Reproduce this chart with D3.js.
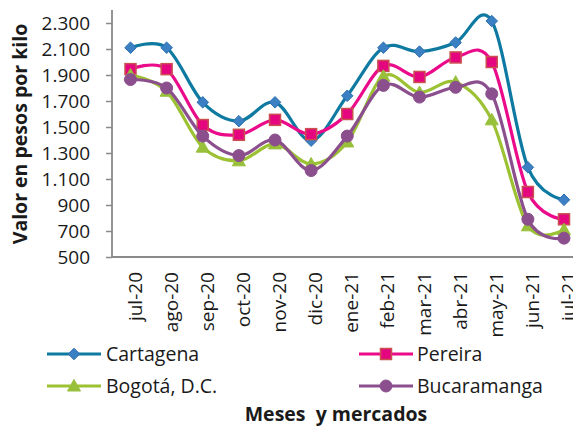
<!DOCTYPE html>
<html>
<head>
<meta charset="utf-8">
<script src="https://cdn.jsdelivr.net/npm/d3@7"></script>
<style>
  html, body { margin: 0; padding: 0; background: #fff; }
  svg { display: block; }
  text { font-family: "Open Sans", "Noto Sans", sans-serif; fill: #1a1a1a; }
</style>
</head>
<body>
<svg id="chart" width="573" height="426"></svg>
<script>
const months = ["jul-20","ago-20","sep-20","oct-20","nov-20","dic-20","ene-21","feb-21","mar-21","abr-21","may-21","jun-21","jul-21"];
const cartagena   = [2110, 2110, 1690, 1545, 1690, 1395, 1740, 2110, 2080, 2150, 2315, 1190, 940];
const pereira     = [1945, 1945, 1515, 1440, 1555, 1445, 1600, 1970, 1885, 2035, 2000, 1000, 790];
const bogota      = [1900, 1775, 1345, 1240, 1370, 1215, 1385, 1890, 1765, 1845, 1555, 740, 710];
const bucaramanga = [1865, 1800, 1430, 1280, 1400, 1165, 1430, 1820, 1730, 1805, 1755, 790, 645];
const yTicks = [500, 700, 900, 1100, 1300, 1500, 1700, 1900, 2100, 2300];
const seriesNames = ["Cartagena", "Pereira", "Bogotá, D.C.", "Bucaramanga"];

const series = [
  {name: seriesNames[0], values: cartagena,   line: "#0f7aa1", fill: "#3a80c3", stroke: "#2d6fb0", shape: "diamond"},
  {name: seriesNames[1], values: pereira,     line: "#ea0a8a", fill: "#e5067f", stroke: "#c9504f", shape: "square"},
  {name: seriesNames[2], values: bogota,      line: "#9cc132", fill: "#98c03a", stroke: "#98c03a", shape: "triangle"},
  {name: seriesNames[3], values: bucaramanga, line: "#8b4f8e", fill: "#8b4f8e", stroke: "#8b4f8e", shape: "circle"}
];

const svg = d3.select("#chart");
const axisX = 112, plotTop = 10, plotBottom = 257;

const x = d3.scalePoint().domain(months).range([130.5, 564]);
const y = d3.scaleLinear().domain([500, 2400]).range([plotBottom, plotTop]);

// y axis
const yAxis = d3.axisLeft(y).tickValues(yTicks).tickSize(6).tickPadding(16)
  .tickFormat(d => d3.format(",")(d).replace(/,/g, "."));
const gy = svg.append("g").attr("transform", `translate(${axisX},0)`).call(yAxis);
gy.select(".domain").remove();
gy.selectAll(".tick line").attr("stroke", "#8a8a8a").attr("stroke-width", 1.5);
gy.selectAll(".tick text").attr("font-size", 19).attr("fill", "#1a1a1a")
  .attr("font-family", "'Open Sans', 'Noto Sans', sans-serif");
svg.append("line").attr("x1", axisX).attr("x2", axisX).attr("y1", plotTop).attr("y2", plotBottom)
  .attr("stroke", "#8a8a8a").attr("stroke-width", 1.8);

// x axis line
svg.append("line").attr("x1", axisX).attr("x2", 573).attr("y1", plotBottom).attr("y2", plotBottom)
  .attr("stroke", "#8a8a8a").attr("stroke-width", 2);

// x labels
svg.append("g").selectAll("text").data(months).join("text")
  .attr("transform", d => `translate(${x(d) + 11},272) rotate(-90)`)
  .attr("text-anchor", "end")
  .attr("font-size", 19)
  .text(d => d);

// symbols
function drawMarker(g, shape, cx, cy, s) {
  if (shape === "diamond") {
    g.append("path").attr("d", d3.symbol().type(d3.symbolDiamond2).size(85)())
      .attr("transform", `translate(${cx},${cy})`)
      .attr("fill", s.fill).attr("stroke", s.stroke).attr("stroke-width", 1);
  } else if (shape === "square") {
    g.append("rect").attr("x", cx - 5.5).attr("y", cy - 5.5).attr("width", 11).attr("height", 11)
      .attr("fill", s.fill).attr("stroke", s.stroke).attr("stroke-width", 1.5);
  } else if (shape === "triangle") {
    g.append("path").attr("d", `M${cx},${cy - 6.5}L${cx + 6.5},${cy + 5}L${cx - 6.5},${cy + 5}Z`)
      .attr("fill", s.fill).attr("stroke", s.stroke).attr("stroke-width", 1);
  } else {
    g.append("circle").attr("cx", cx).attr("cy", cy).attr("r", 6)
      .attr("fill", s.fill).attr("stroke", s.stroke).attr("stroke-width", 1);
  }
}

const lineGen = d3.line()
  .x((d, i) => x(months[i]))
  .y(d => y(d))
  .curve(d3.curveCatmullRom.alpha(0));

series.forEach(s => {
  const g = svg.append("g");
  g.append("path").datum(s.values).attr("d", lineGen)
    .attr("fill", "none").attr("stroke", s.line).attr("stroke-width", 3.2)
    .attr("stroke-linejoin", "round").attr("stroke-linecap", "round");
  s.values.forEach((v, i) => drawMarker(g, s.shape, x(months[i]), y(v), s));
});

// legend
const legendPos = [
  {x1: 47, x2: 101, ty: 354, tx: 106},
  {x1: 359, x2: 413, ty: 354, tx: 417},
  {x1: 47, x2: 101, ty: 386, tx: 106},
  {x1: 359, x2: 413, ty: 386, tx: 417}
];
series.forEach((s, i) => {
  const p = legendPos[i];
  const g = svg.append("g");
  g.append("line").attr("x1", p.x1).attr("x2", p.x2).attr("y1", p.ty).attr("y2", p.ty)
    .attr("stroke", s.line).attr("stroke-width", 3.2);
  drawMarker(g, s.shape, (p.x1 + p.x2) / 2, p.ty, s);
  g.append("text").attr("x", p.tx).attr("y", p.ty).attr("dy", "0.35em")
    .attr("font-size", 19.5).text(s.name);
});

// axis titles
svg.append("text").attr("x", 336).attr("y", 421).attr("text-anchor", "middle")
  .attr("font-size", 19.5).attr("font-weight", "bold").attr("xml:space", "preserve")
  .text("Meses  y mercados");
svg.append("text").attr("transform", "translate(27,134) rotate(-90)")
  .attr("text-anchor", "middle").attr("font-size", 19.5).attr("font-weight", "bold")
  .text("Valor en pesos por kilo");
</script>
</body>
</html>
